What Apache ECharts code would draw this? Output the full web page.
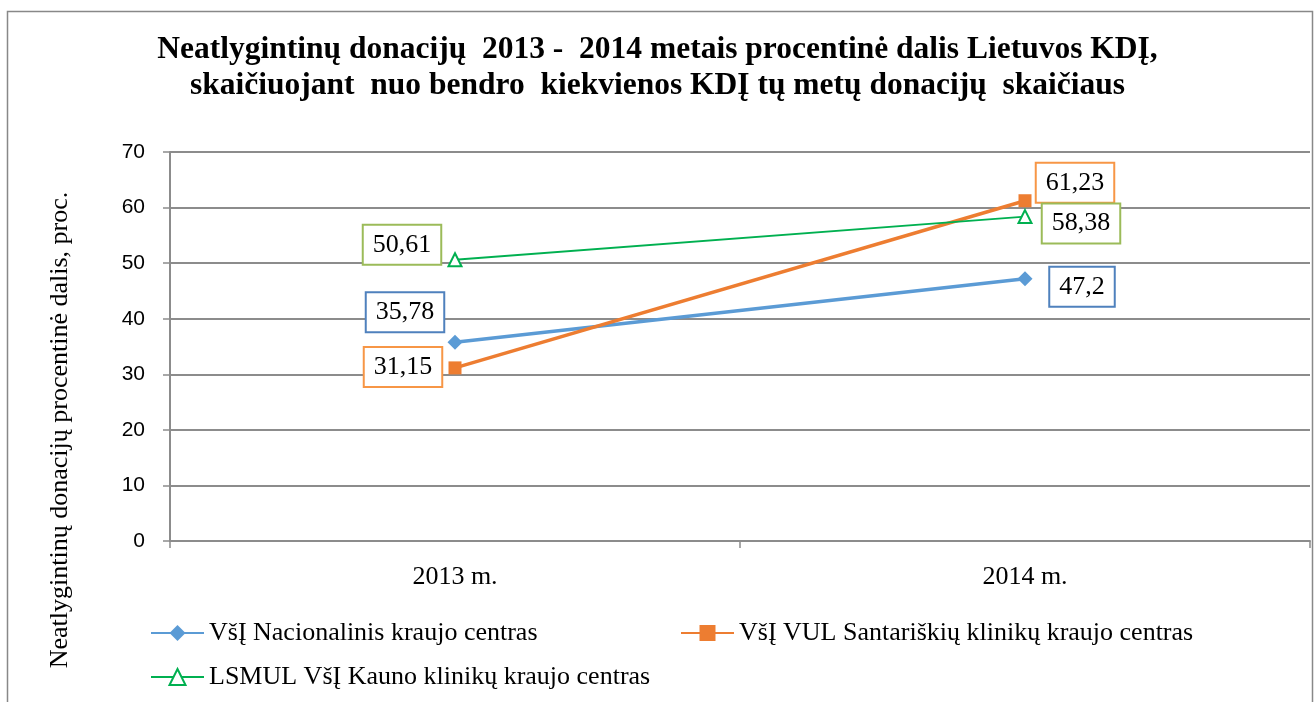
<!DOCTYPE html>
<html><head><meta charset="utf-8">
<script src="https://cdn.jsdelivr.net/npm/echarts@6/dist/echarts.min.js"></script>
<style>html,body{margin:0;padding:0;background:#fff}#c{width:1315px;height:702px}</style>
</head><body><div id="c"></div>
<script>
const categories = ['2013 m.', '2014 m.'];
const seriesNames = ['VšĮ Nacionalinis kraujo centras', 'VšĮ VUL Santariškių klinikų kraujo centras', 'LSMUL VšĮ Kauno klinikų kraujo centras'];
const nacionalinis = [35.78, 47.2];
const santariskiu = [31.15, 61.23];
const kauno = [50.61, 58.38];
const yTicks = [0, 10, 20, 30, 40, 50, 60, 70];

const serif = '"Liberation Serif", "Times New Roman", serif';
const sans = '"Liberation Sans", Arial, sans-serif';

function fmt(v){ return String(v).replace('.', ','); }
function mkData(vals, offsets, border){
  return vals.map((v,i)=>({value:v, label:{show:true, position:'inside', offset:offsets[i],
    formatter: p=>fmt(p.value), fontFamily:serif, fontSize:26, lineHeight:28, color:'#000',
    backgroundColor:'#fff', borderColor:border, borderWidth:2, padding:[5,9,5,9]}}));
}

const chart = echarts.init(document.getElementById('c'));
chart.setOption({
  animation:false,
  title:{text:'Neatlygintinų donacijų  2013 -  2014 metais procentinė dalis Lietuvos KDĮ,\nskaičiuojant  nuo bendro  kiekvienos KDĮ tų metų donacijų  skaičiaus',
    left:'center', top:27, padding:[5,0,5,16],
    textStyle:{fontFamily:serif, fontWeight:'bold', fontSize:31.5, lineHeight:36, color:'#000'}},
  graphic:[
    {type:'rect', shape:{x:7.5, y:11.5, width:1305, height:700}, style:{fill:null, stroke:'#888', lineWidth:1.5}, silent:true},
    {type:'text', x:60, y:430, rotation:Math.PI/2, style:{text:'Neatlygintinų donacijų procentinė dalis, proc.', fontFamily:serif, fontSize:26, fill:'#000', align:'center', verticalAlign:'middle'}}
  ],
  grid:{left:170, right:5, top:152, bottom:161},
  legend:[
    {left:145, top:615, data:[seriesNames[0]]},
    {left:675, top:615, data:[seriesNames[1]]},
    {left:145, top:659, data:[seriesNames[2]]}
  ].map(l=>Object.assign(l,{itemWidth:53, itemHeight:20, itemGap:0, textStyle:{fontFamily:serif, fontSize:26, color:'#000'}})),
  xAxis:{type:'category', data:categories, boundaryGap:true,
    axisLine:{lineStyle:{color:'#8c8c8c', width:2}},
    axisTick:{show:true, length:7, lineStyle:{color:'#8c8c8c', width:1.5}},
    axisLabel:{fontFamily:serif, fontSize:26, color:'#000', margin:23}},
  yAxis:{type:'value', min:0, max:70, interval:10,
    axisLine:{show:true, lineStyle:{color:'#8c8c8c', width:2}},
    axisTick:{show:true, length:7, lineStyle:{color:'#8c8c8c', width:1.5}},
    axisLabel:{fontFamily:sans, fontSize:21, color:'#000', margin:25, formatter:v=>yTicks.includes(v)?String(v):''},
    splitLine:{lineStyle:{color:'#8c8c8c', width:2}}},
  series:[
    {name:seriesNames[0], type:'line', data:mkData(nacionalinis, [[-50,-30],[57,8]], '#4F81BD'),
     symbol:'diamond', symbolSize:15, color:'#5B9BD5', lineStyle:{width:3.5, color:'#5B9BD5'}, itemStyle:{color:'#5B9BD5'}, z:3},
    {name:seriesNames[1], type:'line', data:mkData(santariskiu, [[-52,-1],[50,-18]], '#F79646'),
     symbol:'rect', symbolSize:13, color:'#ED7D31', lineStyle:{width:3.5, color:'#ED7D31'}, itemStyle:{color:'#ED7D31'}, z:4},
    {name:seriesNames[2], type:'line', data:mkData(kauno, [[-53,-15],[56,7]], '#9BBB59'),
     symbol:'triangle', symbolSize:13, color:'#00B050', lineStyle:{width:1.8, color:'#00B050'}, itemStyle:{color:'#fff', borderColor:'#00B050', borderWidth:2}, z:5}
  ]
});
</script></body></html>
